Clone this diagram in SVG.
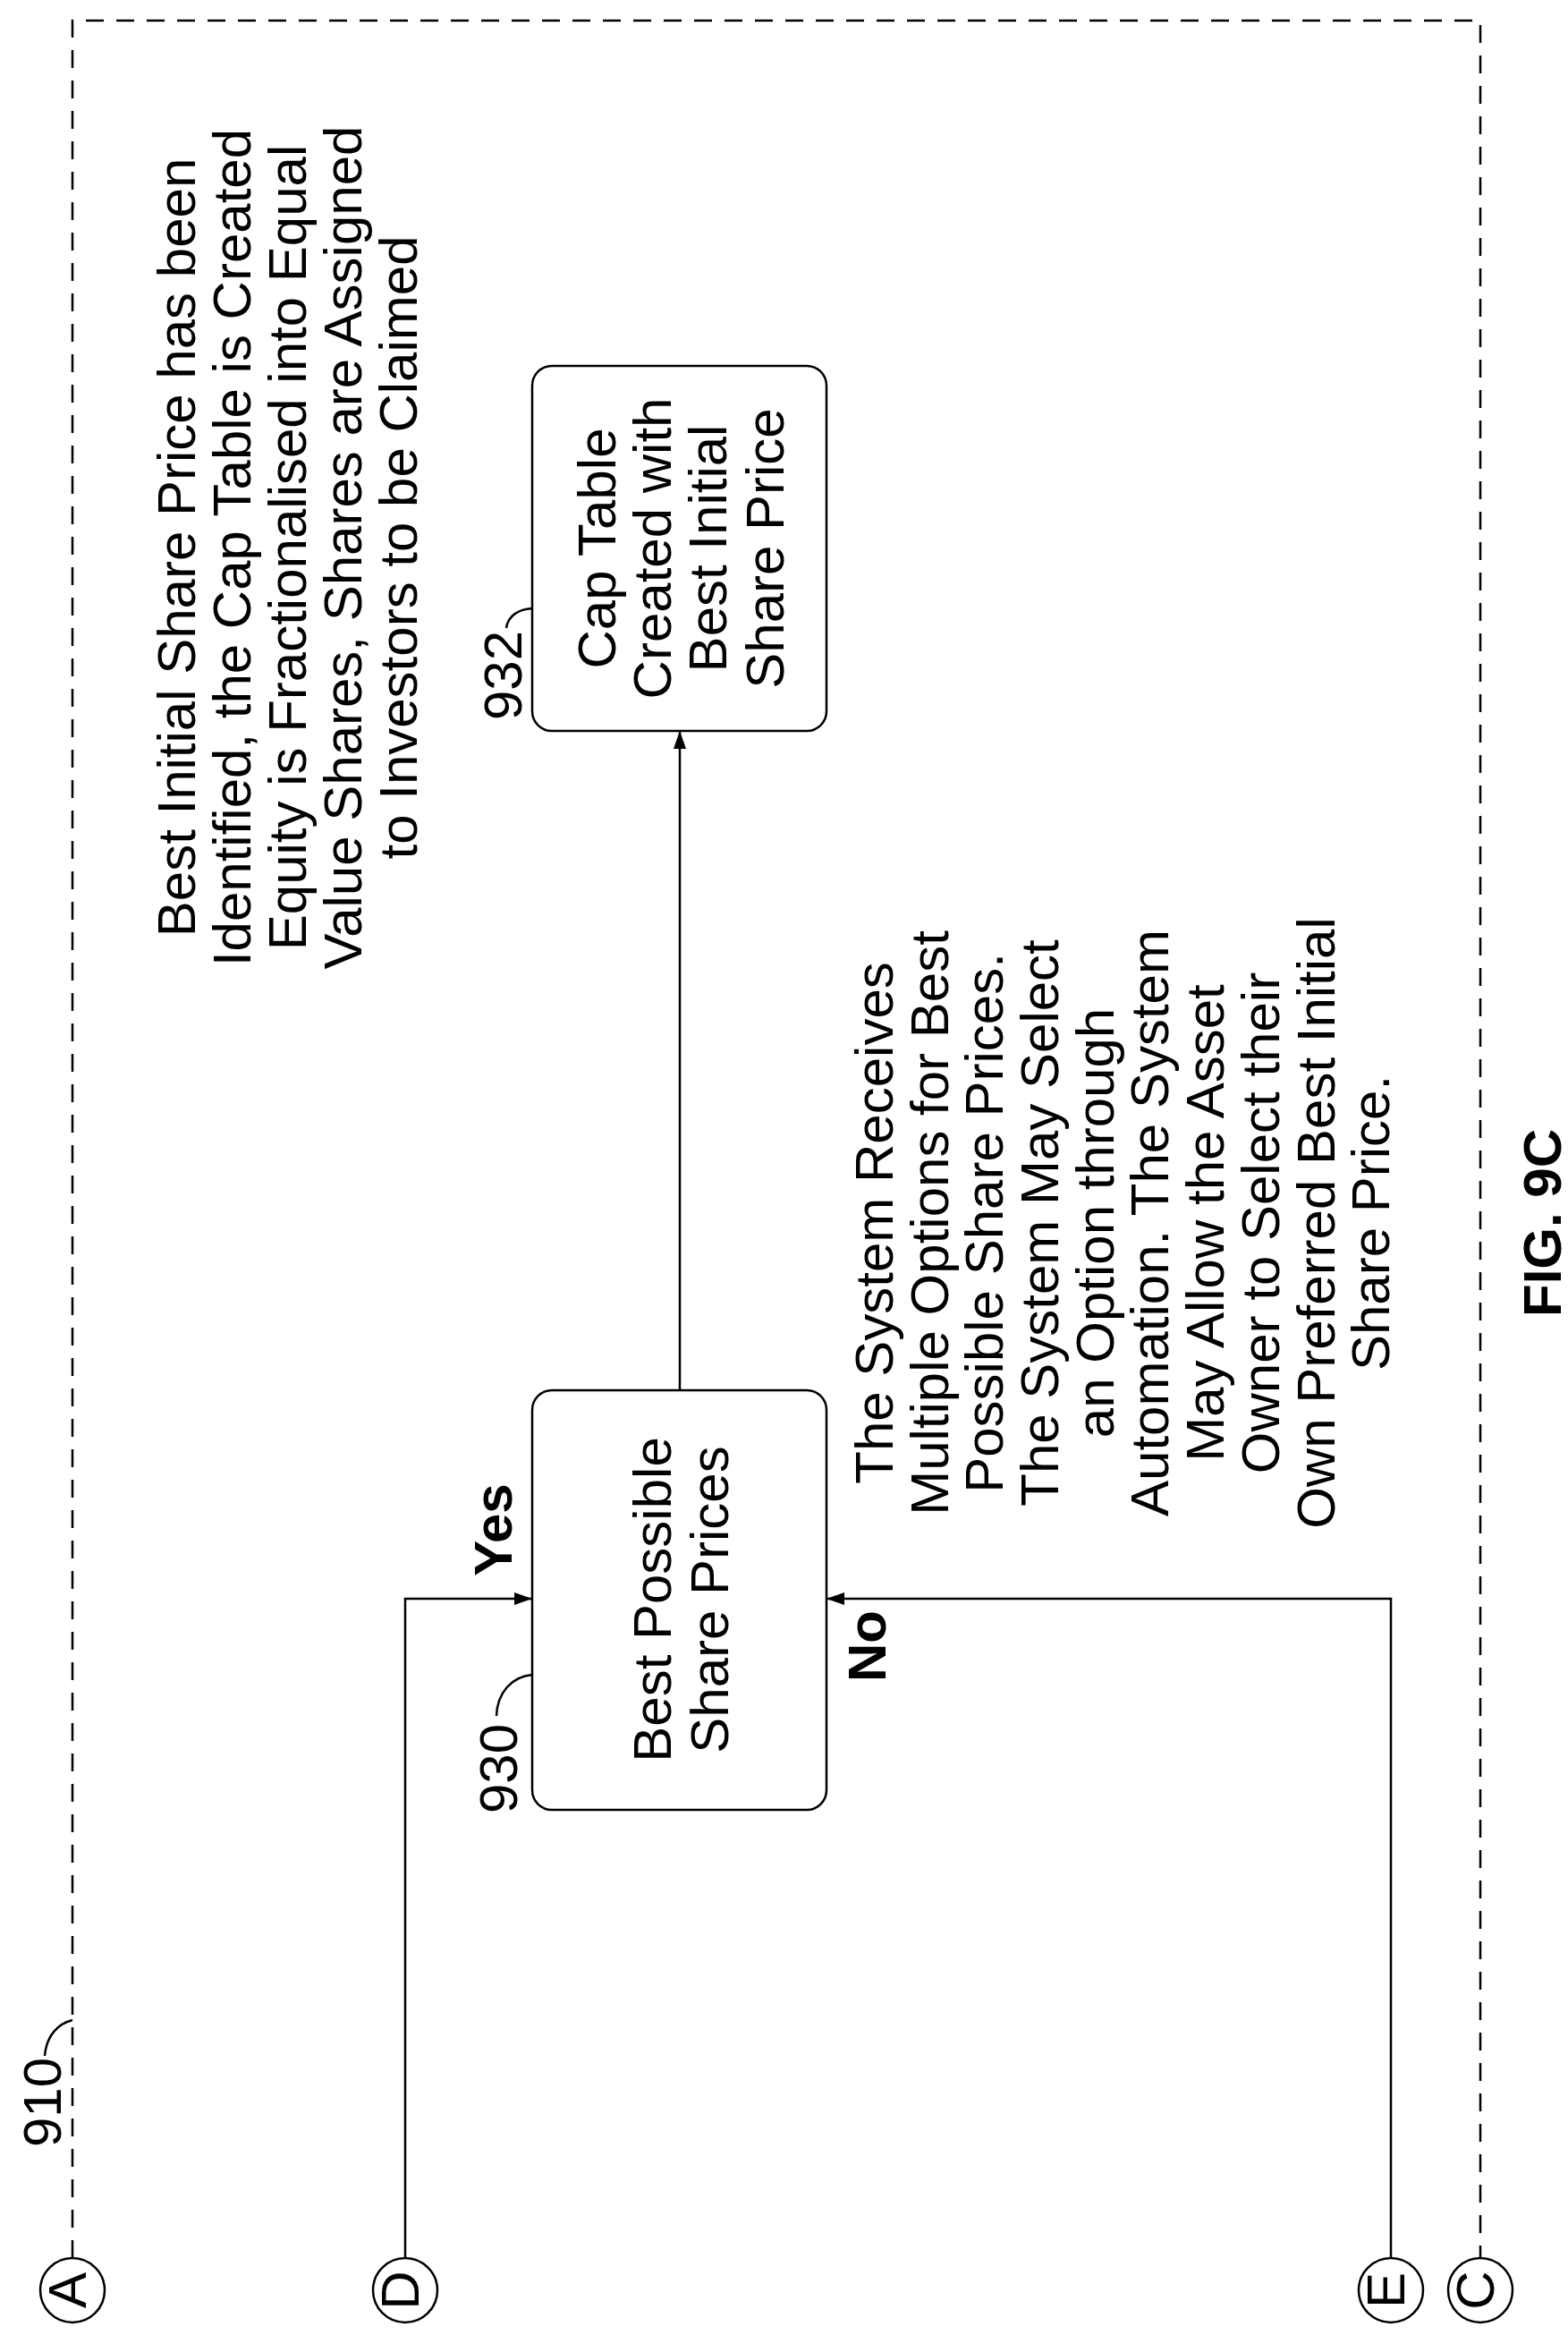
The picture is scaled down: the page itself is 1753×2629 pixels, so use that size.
<svg xmlns="http://www.w3.org/2000/svg" width="1753" height="2629" viewBox="0 0 1753 2629">
<defs>
<style>
.t{font-family:"Liberation Sans",Arial,sans-serif;font-size:60px;fill:#000;text-anchor:middle}
.b{font-weight:bold}
.l{fill:none;stroke:#000;stroke-width:2.5}
.d{fill:none;stroke:#000;stroke-width:2.5;stroke-dasharray:20 14}
</style>
<marker id="ar" viewBox="0 0 20 14" refX="20" refY="7" markerWidth="20" markerHeight="14" markerUnits="userSpaceOnUse" orient="auto"><path d="M0,0 L20,7 L0,14 Z" fill="#000"/></marker>
</defs>
<rect width="1753" height="2629" fill="#fff"/>
<g id="boundary910">
<path class="d" d="M81,2524 V23 H1655 V2524"/>
<text class="t" font-size="44" transform="translate(68,2350) rotate(-90)">910</text>
<path class="l" d="M50,2298 C52,2275 65,2262 81,2258"/>
</g>
<g id="connA"><circle class="l" cx="81" cy="2560" r="36"/><text class="t" font-size="42" transform="translate(96,2560) rotate(-90)">A</text></g>
<g id="connD"><circle class="l" cx="453" cy="2560" r="36"/><text class="t" font-size="42" transform="translate(468,2560) rotate(-90)">D</text></g>
<g id="connE"><circle class="l" cx="1555" cy="2560" r="36"/><text class="t" font-size="42" transform="translate(1570,2560) rotate(-90)">E</text></g>
<g id="connC"><circle class="l" cx="1655" cy="2560" r="36"/><text class="t" font-size="42" transform="translate(1670,2560) rotate(-90)">C</text></g>
<g id="n930">
<rect class="l" x="595" y="1554" width="329" height="469" rx="22"/>
<text class="t" transform="translate(750,1788) rotate(-90)">Best Possible</text>
<text class="t" transform="translate(814,1788) rotate(-90)">Share Prices</text>
<text class="t" font-size="58" transform="translate(578,1977) rotate(-90)">930</text>
<path class="l" d="M555,1918 C556,1892 572,1874 595,1872"/>
</g>
<g id="n932">
<rect class="l" x="595" y="409" width="329" height="408" rx="22"/>
<text class="t" transform="translate(688,613) rotate(-90)">Cap Table</text>
<text class="t" transform="translate(750,613) rotate(-90)">Created with</text>
<text class="t" transform="translate(812,613) rotate(-90)">Best Initial</text>
<text class="t" transform="translate(876,613) rotate(-90)">Share Price</text>
<text class="t" font-size="58" transform="translate(583,755) rotate(-90)">932</text>
<path class="l" d="M566,702 C568,688 580,681 595,680"/>
</g>
<g id="note-top">
<text class="t" transform="translate(218,612) rotate(-90)">Best Initial Share Price has been</text>
<text class="t" transform="translate(280,612) rotate(-90)">Identified, the Cap Table is Created</text>
<text class="t" transform="translate(342,612) rotate(-90)">Equity is Fractionalised into Equal</text>
<text class="t" transform="translate(404,612) rotate(-90)">Value Shares, Shares are Assigned</text>
<text class="t" transform="translate(466,612) rotate(-90)">to Investors to be Claimed</text>
</g>
<g id="note-bottom">
<text class="t" transform="translate(998,1367) rotate(-90)">The System Receives</text>
<text class="t" transform="translate(1060,1367) rotate(-90)">Multiple Options for Best</text>
<text class="t" transform="translate(1121,1367) rotate(-90)">Possible Share Prices.</text>
<text class="t" transform="translate(1183,1367) rotate(-90)">The System May Select</text>
<text class="t" transform="translate(1245,1367) rotate(-90)">an Option through</text>
<text class="t" transform="translate(1306,1367) rotate(-90)">Automation. The System</text>
<text class="t" transform="translate(1368,1367) rotate(-90)">May Allow the Asset</text>
<text class="t" transform="translate(1430,1367) rotate(-90)">Owner to Select their</text>
<text class="t" transform="translate(1492,1367) rotate(-90)">Own Preferred Best Initial</text>
<text class="t" transform="translate(1553,1367) rotate(-90)">Share Price.</text>
</g>
<g id="connectors">
<path class="l" d="M453,2524 V1787 H595" marker-end="url(#ar)"/>
<path class="l" d="M1555,2524 V1787 H924" marker-end="url(#ar)"/>
<path class="l" d="M760,1554 V817" marker-end="url(#ar)"/>
<text class="t b" transform="translate(572,1710) rotate(-90)">Yes</text>
<text class="t b" transform="translate(990,1840) rotate(-90)">No</text>
</g>
<text class="t b" font-size="70" transform="translate(1745,1367) rotate(-90)">FIG. 9C</text>
</svg>
